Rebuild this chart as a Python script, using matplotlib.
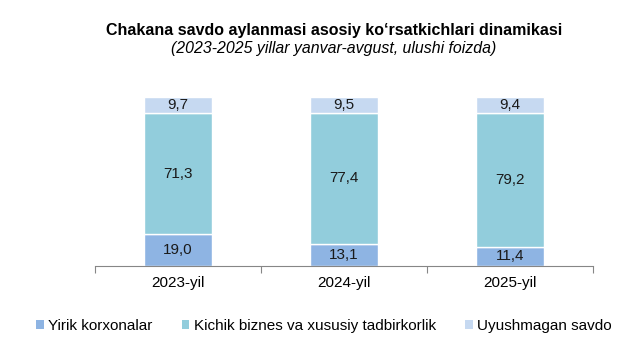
import numpy as np
import matplotlib.pyplot as plt
from matplotlib.patches import Patch

plt.rcParams['font.family'] = ['Liberation Sans', 'DejaVu Sans']

years = ["2023-yil", "2024-yil", "2025-yil"]
yirik = [19.0, 13.1, 11.4]
kichik = [71.3, 77.4, 79.2]
uyushmagan = [9.7, 9.5, 9.4]

series = [
    ("Yirik korxonalar", yirik, "#8eb4e3"),
    ("Kichik biznes va xususiy tadbirkorlik", kichik, "#92cddc"),
    ("Uyushmagan savdo", uyushmagan, "#c6d9f1"),
]

fig = plt.figure(figsize=(6.44, 3.5), dpi=100)
ax = fig.add_axes([95 / 644, 84 / 350, 498 / 644, 169 / 350])

x = np.arange(len(years))
bottom = np.zeros(len(years))
for name, vals, col in series:
    vals = np.array(vals)
    ax.bar(x, vals, width=0.41, bottom=bottom, color=col,
           edgecolor="white", linewidth=1)
    for xi, b, v in zip(x, bottom, vals):
        ax.text(xi, b + v / 2, f"{v:.1f}".replace(".", ","),
                ha="center", va="center", fontsize=11, color="#1a1a1a")
    bottom += vals

ax.set_xlim(-0.5, 2.5)
ax.set_ylim(0, 100)
ax.set_yticks([])
for s in ["top", "right", "left"]:
    ax.spines[s].set_visible(False)
ax.spines["bottom"].set_color("#868686")
ax.spines["bottom"].set_linewidth(0.8)

# boundary ticks between categories, labels at centres
ax.set_xticks([-0.5, 0.5, 1.5, 2.5])
ax.set_xticklabels([])
ax.tick_params(axis="x", which="major", length=5, color="#868686", width=0.8)
ax.set_xticks(x, minor=True)
ax.set_xticklabels(years, minor=True, fontsize=11)
ax.tick_params(axis="x", which="minor", length=0, pad=7)

fig.text(334 / 644, 1 - 30 / 350, "Chakana savdo aylanmasi asosiy ko\u2018rsatkichlari dinamikasi",
         ha="center", va="center", fontsize=11.5, fontweight="bold")
fig.text(334 / 644, 1 - 48 / 350, "(2023-2025 yillar yanvar-avgust, ulushi foizda)",
         ha="center", va="center", fontsize=11.4, style="italic")

handles = [Patch(facecolor=c, label=n) for n, _, c in series]
fig.legend(handles=handles, loc="center", bbox_to_anchor=(324 / 644, 1 - 326 / 350),
           ncol=3, frameon=False, fontsize=11, handlelength=0.5, handleheight=0.5,
           handletextpad=0.3, columnspacing=1.9)

fig.savefig("out.png", dpi=100)
